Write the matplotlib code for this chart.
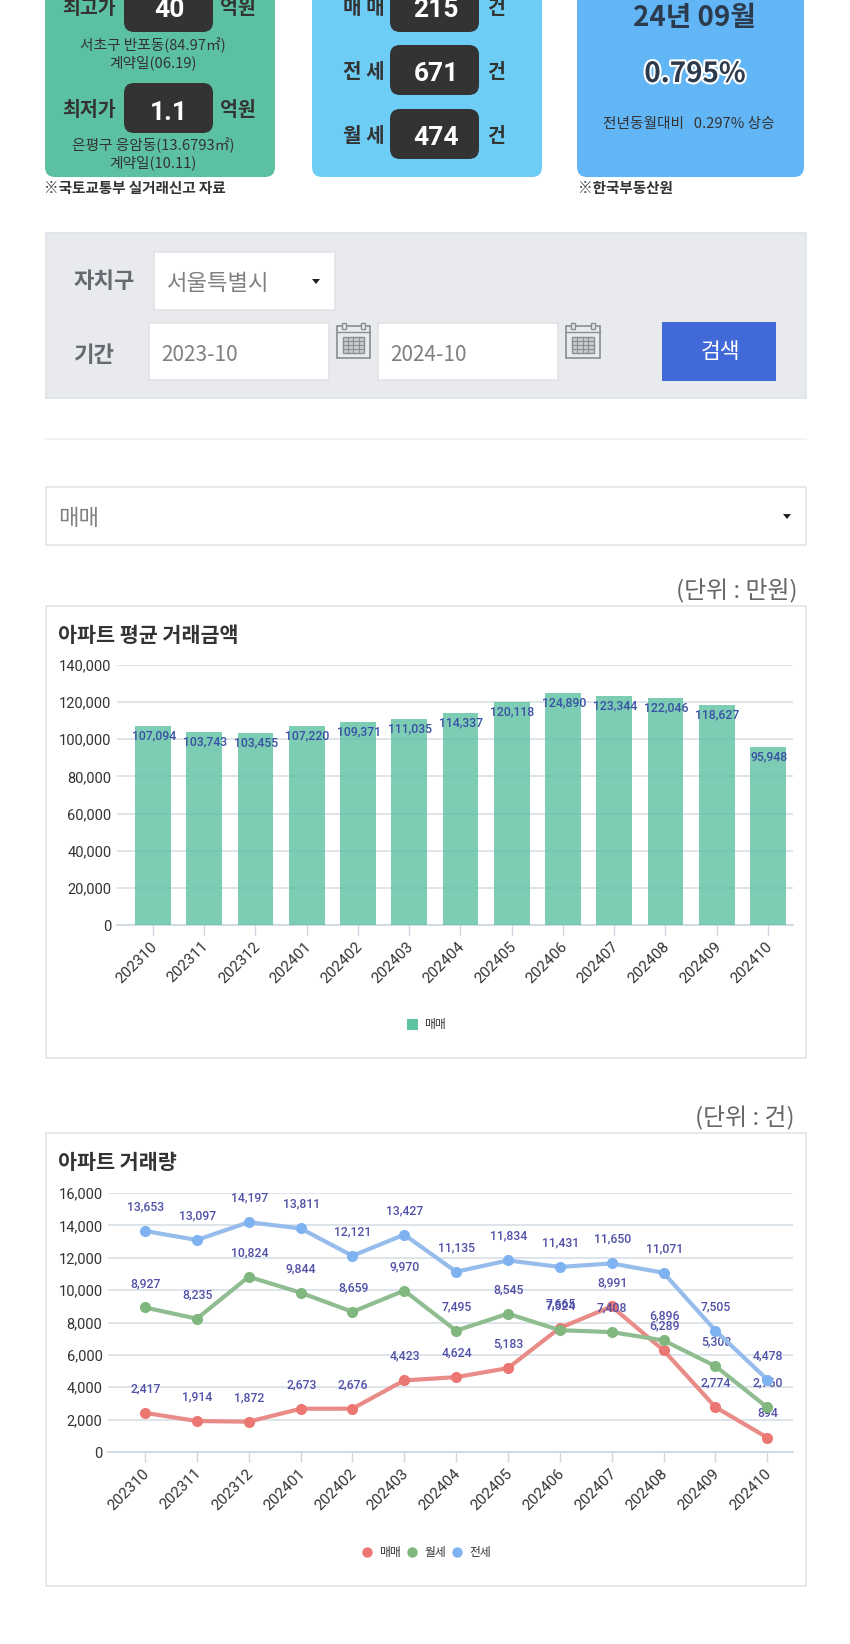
import matplotlib
matplotlib.use('Agg')
import matplotlib.pyplot as plt
import matplotlib.patheffects as pe
from matplotlib.patches import Rectangle, FancyBboxPatch, Polygon
from matplotlib.transforms import ScaledTranslation

months = ['202310', '202311', '202312', '202401', '202402', '202403', '202404',
          '202405', '202406', '202407', '202408', '202409', '202410']
avg_price = [107094, 103743, 103455, 107220, 109371, 111035, 114337,
             120118, 124890, 123344, 122046, 118627, 95948]
sale_count = [2417, 1914, 1872, 2673, 2676, 4423, 4624, 5183, 7665, 8991, 6289, 2774, 894]
monthly_count = [8927, 8235, 10824, 9844, 8659, 9970, 7495, 8545, 7524, 7408, 6896, 5308, 2760]
jeonse_count = [13653, 13097, 14197, 13811, 12121, 13427, 11135, 11834, 11431, 11650, 11071, 7505, 4478]
price_ticks = [0, 20000, 40000, 60000, 80000, 100000, 120000, 140000]
count_ticks = [0, 2000, 4000, 6000, 8000, 10000, 12000, 14000, 16000]

KR = ['Noto Sans CJK KR', 'DejaVu Sans']
NUM = ['Roboto', 'DejaVu Sans']
W, H = 850, 1644
plt.rcParams['font.family'] = KR


def add_text(bg, x, y, s, size, color='#333333', weight='normal', ha='center', **kw):
    return bg.text(x, y, s, fontsize=size, color=color, fontweight=weight,
                   ha=ha, va='center', **kw)


def round_box(bg, x0, y0, x1, y1, color, r=10):
    bg.add_patch(FancyBboxPatch((x0 + r, y0 + r), x1 - x0 - 2 * r, y1 - y0 - 2 * r,
                                boxstyle=f'round,pad={r},rounding_size={r}',
                                fc=color, ec='none'))


def plain_box(bg, x0, y0, x1, y1, fc='white', ec='#E0E2E6', lw=1.1):
    bg.add_patch(Rectangle((x0, y0), x1 - x0, y1 - y0, fc=fc, ec=ec, lw=lw))


def caret(bg, x, y):
    bg.add_patch(Polygon([(x - 4, y - 2), (x + 4, y - 2), (x, y + 3)], fc='#222222', ec='none'))


def calendar(bg, x0, y0, x1, y1):
    c = '#8A8D92'
    bg.add_patch(Rectangle((x0, y0 + 3), x1 - x0, y1 - y0 - 3, fc='#E8EAEE', ec=c, lw=1.2))
    bg.plot([x0, x1], [y0 + 9, y0 + 9], color=c, lw=1)
    for cx in (x0 + 7, x1 - 7):
        bg.add_patch(Rectangle((cx - 2, y0), 4, 6, fc='#E8EAEE', ec=c, lw=1))
    gx0, gx1, gy0, gy1 = x0 + 6, x1 - 6, y0 + 14, y1 - 5
    bg.add_patch(Rectangle((gx0, gy0), gx1 - gx0, gy1 - gy0, fc='#C9CBD0', ec=c, lw=1))
    for i in range(1, 4):
        gx = gx0 + (gx1 - gx0) * i / 4
        gy = gy0 + (gy1 - gy0) * i / 4
        bg.plot([gx, gx], [gy0, gy1], color=c, lw=0.8)
        bg.plot([gx0, gx1], [gy, gy], color=c, lw=0.8)


def draw_page(bg):
    # summary cards
    round_box(bg, 45, -30, 275, 177, '#5CC1A2')
    round_box(bg, 312, -30, 542, 177, '#6DCDF5')
    round_box(bg, 577, -30, 804, 177, '#63B6F6')

    for y0, y1, label, val, yt in [(-18, 32, '최고가', '40', 8), (83, 133, '최저가', '1.1', 111)]:
        round_box(bg, 124, y0, 213, y1, '#333333')
        add_text(bg, 89, yt, label, 14, weight='bold')
        add_text(bg, 169, yt + 2, val, 19, 'white', 'bold', family=NUM)
        add_text(bg, 238, yt, '억원', 14, weight='bold')
    add_text(bg, 153, 45, '서초구 반포동(84.97㎡)', 10.6, weight='medium')
    add_text(bg, 153, 63, '계약일(06.19)', 10.6, weight='medium')
    add_text(bg, 153, 145, '은평구 응암동(13.6793㎡)', 10.6, weight='medium')
    add_text(bg, 153, 163, '계약일(10.11)', 10.6, weight='medium')
    add_text(bg, 44, 188, '※국토교통부 실거래신고 자료', 10.5, weight='bold', ha='left')

    for y0, y1, label, val, yt in [(-18, 32, '매 매', '215', 8), (45, 95, '전 세', '671', 72), (109, 159, '월 세', '474', 136)]:
        round_box(bg, 390, y0, 479, y1, '#333333')
        add_text(bg, 364, yt, label, 14.5, weight='bold')
        add_text(bg, 436, yt + 2, val, 19, 'white', 'bold', family=NUM)
        add_text(bg, 496, yt, '건', 14, weight='bold')

    add_text(bg, 694, 18, '24년 09월', 20, '#2B3A4C', 'bold')
    t = add_text(bg, 695, 74, '0.795%', 20, '#2B3A4C', 'bold')
    t.set_path_effects([pe.withStroke(linewidth=3, foreground='white')])
    add_text(bg, 689, 124, '전년동월대비   0.297% 상승', 10.6, weight='medium')
    add_text(bg, 578, 188, '※한국부동산원', 10.5, weight='bold', ha='left')

    # search panel
    plain_box(bg, 46, 233, 806, 398, fc='#E8EAEE', ec='#DDE0E5')
    add_text(bg, 74, 282, '자치구', 16, '#666970', 'bold', ha='left')
    add_text(bg, 74, 355, '기간', 16, '#666970', 'bold', ha='left')
    plain_box(bg, 154, 252, 335, 310)
    add_text(bg, 167, 283, '서울특별시', 16, '#808080', 'light', ha='left')
    caret(bg, 316, 281)
    plain_box(bg, 149, 323, 329, 380)
    add_text(bg, 161, 355, '2023-10', 15, '#808080', 'light', ha='left')
    plain_box(bg, 378, 323, 558, 380)
    add_text(bg, 390, 355, '2024-10', 15, '#808080', 'light', ha='left')
    calendar(bg, 337, 323, 370, 358)
    calendar(bg, 566, 323, 600, 358)
    bg.add_patch(Rectangle((662, 322), 114, 59, fc='#4169D8', ec='none'))
    add_text(bg, 720, 352, '검색', 15.5, 'white')

    bg.plot([46, 806], [439, 439], color='#F1F1F1', lw=1.2)
    plain_box(bg, 46, 487, 806, 545)
    add_text(bg, 58, 518, '매매', 16, '#808080', 'light', ha='left')
    caret(bg, 787, 516)

    add_text(bg, 798, 590, '(단위 : 만원)', 17.2, '#666666', 'light', ha='right')
    add_text(bg, 795, 1118, '(단위 : 건)', 17.2, '#666666', 'light', ha='right')

    # chart frames
    plain_box(bg, 46, 606, 806, 1058, ec='#DDE3E8')
    plain_box(bg, 46, 1133, 806, 1586, ec='#DDE3E8')
    add_text(bg, 58, 635, '아파트 평균 거래금액', 14.9, '#333333', 'bold', ha='left')
    add_text(bg, 58, 1162, '아파트 거래량', 14.9, '#333333', 'bold', ha='left')

    # legends
    bg.add_patch(Rectangle((407, 1019), 11, 11, fc='#5FC2A3', ec='none'))
    add_text(bg, 424, 1024, '매매', 8.5, ha='left')
    for cx, col, name in [(367, '#EC7672', '매매'), (412, '#7FB77E', '월세'), (457, '#7FB2F0', '전세')]:
        bg.plot([cx], [1552], 'o', ms=7.5, color=col, mec='none')
        add_text(bg, cx + 12, 1552, name, 8.5, ha='left')


def chart_axes(fig, x0, x1, y_top, y_bottom, first_x, step, ymax, yticks):
    ax = fig.add_axes([x0 / W, 1 - y_bottom / H, (x1 - x0) / W, (y_bottom - y_top) / H])
    ax.patch.set_alpha(0)
    ax.set_xlim((x0 - first_x) / step, (x1 - first_x) / step)
    ax.set_ylim(0, ymax)
    for s in ['top', 'left', 'right']:
        ax.spines[s].set_visible(False)
    ax.spines['bottom'].set_color('#CCD6E0')
    ax.spines['bottom'].set_linewidth(1.2)
    ax.set_yticks(yticks)
    ax.set_yticklabels([f'{v:,}' for v in yticks], fontsize=10.5, color='#333333', family=NUM)
    ax.tick_params(axis='y', length=0, pad=4)
    ax.grid(axis='y', color='#D3DEE6', lw=1.1, zorder=0)
    ax.set_axisbelow(True)
    ax.set_xticks(range(len(months)))
    ax.set_xticklabels(months, fontsize=11, color='#333333', family=NUM, rotation=45,
                       ha='right', va='top', rotation_mode='anchor')
    ax.tick_params(axis='x', length=7.2, width=1, color='#CCD6E0', pad=3)
    shift = ScaledTranslation(-2 / 72, 0, fig.dpi_scale_trans)
    for lab in ax.get_xticklabels():
        lab.set_transform(lab.get_transform() + shift)
    return ax


def main():
    fig = plt.figure(figsize=(W / 100, H / 100), dpi=100, facecolor='white')
    bg = fig.add_axes([0, 0, 1, 1])
    bg.set_xlim(0, W)
    bg.set_ylim(H, 0)
    bg.axis('off')
    draw_page(bg)

    ax1 = chart_axes(fig, 117, 793, 665, 925, 153, 51.25, 140000, price_ticks)
    ax1.bar(range(len(months)), avg_price, width=0.7, color='#5FC2A3', alpha=0.82, zorder=3)
    for i, v in enumerate(avg_price):
        ax1.annotate(f'{v:,}', (i, v), xytext=(0.5, -7.2), textcoords='offset points',
                     ha='center', va='center', fontsize=8.8, color='#3A50A5', family=NUM,
                     fontweight='medium', zorder=5)

    ax2 = chart_axes(fig, 108, 793, 1193, 1452, 145, 51.85, 16000, count_ticks)
    series = [(sale_count, '#E98B87', '#EC7672'),
              (monthly_count, '#8FBC90', '#7FB77E'),
              (jeonse_count, '#95BCEB', '#7FB2F0')]
    # later series sit over earlier series' labels, like the original chart
    for n, (values, line_col, mark_col) in enumerate(series):
        z = 3 + n * 2
        ax2.plot(range(len(months)), values, color=line_col, lw=3, zorder=z, clip_on=False)
        ax2.plot(range(len(months)), values, 'o', ms=8, color=mark_col, mec='none',
                 zorder=z, clip_on=False)
        for i, v in enumerate(values):
            ax2.annotate(f'{v:,}', (i, v), xytext=(0.5, 17.3), textcoords='offset points',
                         ha='center', va='center', fontsize=8.8, color='#5050A8', family=NUM,
                         fontweight='medium', zorder=z + 1)

    fig.savefig('out.png', dpi=100)


if __name__ == "__main__":
    main()
